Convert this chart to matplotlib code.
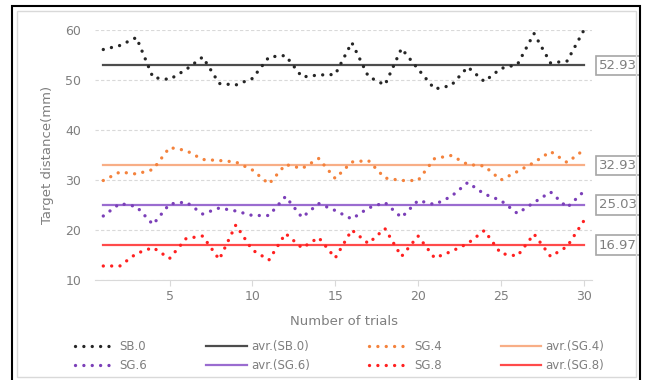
import matplotlib
matplotlib.use("Agg")
import matplotlib.pyplot as plt

trials = list(range(1, 31))

sb0 = [56.1, 56.9, 58.5, 50.5, 50.1, 52.1, 54.6, 49.3, 49.0, 50.3,
       54.6, 54.9, 50.6, 51.0, 51.1, 57.5, 50.7, 49.0, 56.3, 52.2,
       48.2, 48.9, 52.6, 49.7, 52.3, 53.1, 59.3, 53.4, 53.8, 59.9]
sg4 = [29.9, 31.6, 31.2, 32.1, 36.5, 35.9, 34.1, 33.9, 33.6, 32.0,
       29.2, 33.1, 32.3, 34.3, 30.3, 33.6, 33.9, 30.4, 29.9, 29.9,
       34.3, 34.9, 33.1, 32.8, 30.0, 31.7, 33.5, 35.7, 33.5, 36.0]
sg6 = [22.8, 25.3, 24.7, 21.1, 25.2, 25.6, 23.2, 24.4, 23.8, 22.9,
       22.9, 26.7, 22.5, 25.3, 23.9, 22.2, 24.4, 25.5, 22.5, 25.9,
       25.1, 26.7, 29.5, 27.2, 25.9, 23.3, 25.5, 27.6, 24.5, 27.7]
sg8 = [12.8, 12.8, 15.3, 16.5, 14.3, 18.3, 18.8, 14.1, 21.0, 16.0,
       14.0, 19.3, 16.4, 18.5, 14.4, 20.0, 17.3, 20.3, 14.7, 18.8,
       14.4, 15.7, 17.3, 19.9, 15.3, 14.8, 19.2, 14.7, 16.7, 21.8]

names = ["SB.0", "SG.4", "SG.6", "SG.8"]
averages = [52.93, 32.93, 25.03, 16.97]
dot_colors = ["#262626", "#F4823C", "#7B3FB8", "#FF2020"]
avg_colors = ["#4D4D4D", "#F8AE86", "#9A6CD0", "#FF4A4A"]
series = [sb0, sg4, sg6, sg8]

fig = plt.figure(figsize=(6.47, 3.80), dpi=100)
ax = fig.add_axes([95 / 647, 1 - 280 / 380, 497 / 647, 250 / 380])

dot_style = (0, (0.01, 2.5))
handles = {}
for name, vals, avg, dc, ac in zip(names, series, averages, dot_colors, avg_colors):
    dl, = ax.plot(trials, vals, color=dc, lw=2.4, linestyle=dot_style,
                  dash_capstyle="round", label=name, zorder=3)
    al, = ax.plot([trials[0], trials[-1]], [avg, avg], color=ac, lw=1.6,
                  label="avr.(%s)" % name, zorder=2)
    handles[name] = dl
    handles["avr." + name] = al
    ax.annotate("%.2f" % avg, xy=(1.014, avg), xycoords=("axes fraction", "data"),
                ha="left", va="center", fontsize=9.5, color="#7f7f7f",
                bbox=dict(boxstyle="square,pad=0.25", fc="white", ec="#a6a6a6", lw=1.2),
                annotation_clip=False)

ax.set_xlim(0.5, 30.5)
ax.set_ylim(10, 60)
ax.set_xticks([5, 10, 15, 20, 25, 30])
ax.set_yticks([10, 20, 30, 40, 50, 60])
ax.grid(axis="y", color="#d9d9d9", linestyle=(0, (3, 2)), lw=0.8)
ax.set_axisbelow(True)
for s in ["top", "right", "left"]:
    ax.spines[s].set_visible(False)
ax.spines["bottom"].set_color("#d9d9d9")
ax.tick_params(axis="x", colors="#d9d9d9", labelcolor="#7f7f7f", labelsize=9, length=4, direction="out")
ax.tick_params(axis="y", length=0, labelcolor="#7f7f7f", labelsize=9, pad=10)
ax.set_xlabel("Number of trials", color="#7f7f7f", fontsize=9.5, labelpad=8)
ax.set_ylabel("Target distance(mm)", color="#7f7f7f", fontsize=9.5, labelpad=8)

order = ["SB.0", "SG.6", "avr.SB.0", "avr.SG.6", "SG.4", "SG.8", "avr.SG.4", "avr.SG.8"]
leg = fig.legend([handles[k] for k in order], [handles[k].get_label() for k in order],
                 ncol=4, loc="center", bbox_to_anchor=(0.525, 1 - 356 / 380),
                 frameon=False, fontsize=8.5, handlelength=3.4, columnspacing=5.0,
                 handletextpad=0.4, labelspacing=0.5, labelcolor="#7f7f7f")

fig.patches.append(plt.Rectangle((12 / 647, -0.01), 628 / 647, 1 - 6 / 380 + 0.01,
                                 transform=fig.transFigure, fill=False, ec="black", lw=1.5))
fig.patches.append(plt.Rectangle((16.5 / 647, 3 / 380), 619 / 647, 1 - 13.5 / 380,
                                 transform=fig.transFigure, fill=False, ec="#d9d9d9", lw=1))

fig.savefig("out.png", dpi=100)
